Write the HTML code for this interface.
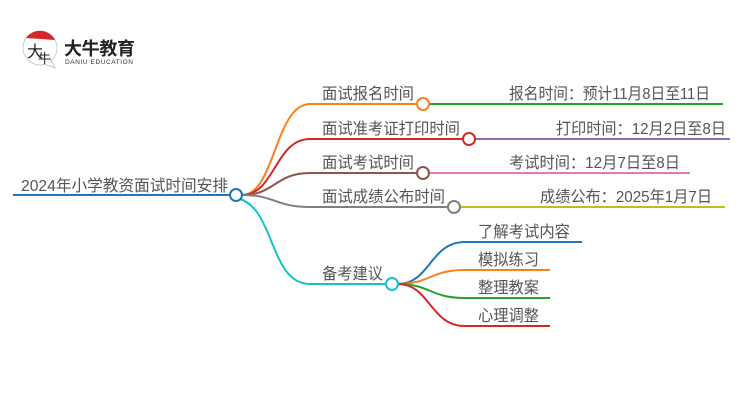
<!DOCTYPE html>
<html><head><meta charset="utf-8"><style>
body{margin:0;background:#fff;width:750px;height:410px;overflow:hidden;}
svg text{font-family:"Liberation Sans","Noto Sans CJK SC",sans-serif;}
</style></head><body>
<svg width="750" height="410" viewBox="0 0 750 410" xmlns="http://www.w3.org/2000/svg">
<circle cx="40" cy="48" r="17" fill="#fff" stroke="#ccc" stroke-width="1"/>
<path d="M26 38 A17 17 0 0 1 55 40 Z" fill="#d9262c"/>
<path d="M44 64 L55 68 L50 58" fill="#fff" stroke="#ccc" stroke-width="1"/>
<text x="27" y="57" font-size="16" fill="#222" font-family="Liberation Serif,'Noto Serif CJK SC',serif">大</text>
<text x="38" y="63" font-size="13" fill="#222" font-family="Liberation Serif,'Noto Serif CJK SC',serif">牛</text>
<text x="64" y="55" font-size="18" font-weight="bold" fill="#222" textLength="71">大牛教育</text>
<text x="65" y="64" font-size="6.5" fill="#333" textLength="68">DANIU EDUCATION</text>

<g fill="none" stroke-width="2">
<line x1="13" y1="195" x2="230" y2="195" stroke="#1f77b4"/>
<path d="M242 195 C275 195 275 104 310 104 L417 104" stroke="#f58220"/>
<path d="M242 195 C275 195 275 139 310 139 L463 139" stroke="#d62728"/>
<path d="M242 195 C275 195 275 173 310 173 L417 173" stroke="#8c564b"/>
<path d="M242 195 C275 195 275 207 310 207 L448 207" stroke="#7f7f7f"/>
<path d="M240 199 C275 210 270 284 310 284 L386 284" stroke="#17becf"/>
<line x1="429" y1="104" x2="723" y2="104" stroke="#2ca02c"/>
<line x1="475" y1="139" x2="730" y2="139" stroke="#9467bd"/>
<line x1="429" y1="173" x2="690" y2="173" stroke="#e377c2"/>
<line x1="460" y1="207" x2="725" y2="207" stroke="#bcbd22"/>
<path d="M398 284 C430 284 430 242 465 242 L582 242" stroke="#1f77b4"/>
<path d="M398 284 C430 284 430 270 465 270 L550 270" stroke="#f58220"/>
<path d="M398 284 C430 284 430 298 465 298 L550 298" stroke="#2ca02c"/>
<path d="M398 284 C430 284 430 326 465 326 L550 326" stroke="#d62728"/>
</g>
<g fill="#fff" stroke-width="2">
<circle cx="236" cy="195" r="6" stroke="#1f77b4"/>
<circle cx="423" cy="104" r="6" stroke="#f58220"/>
<circle cx="469" cy="139" r="6" stroke="#d62728"/>
<circle cx="423" cy="173" r="6" stroke="#8c564b"/>
<circle cx="454" cy="207" r="6" stroke="#7f7f7f"/>
<circle cx="392" cy="284" r="6" stroke="#17becf"/>
</g>
<g font-size="16" fill="#555">
<text x="21" y="191" textLength="207" lengthAdjust="spacingAndGlyphs">2024年小学教资面试时间安排</text>
<text x="322" y="99" textLength="92" lengthAdjust="spacingAndGlyphs">面试报名时间</text>
<text x="322" y="134" textLength="138" lengthAdjust="spacingAndGlyphs">面试准考证打印时间</text>
<text x="322" y="168" textLength="92" lengthAdjust="spacingAndGlyphs">面试考试时间</text>
<text x="322" y="202" textLength="123" lengthAdjust="spacingAndGlyphs">面试成绩公布时间</text>
<text x="509" y="99" textLength="201" lengthAdjust="spacingAndGlyphs">报名时间：预计11月8日至11日</text>
<text x="556" y="134" textLength="170" lengthAdjust="spacingAndGlyphs">打印时间：12月2日至8日</text>
<text x="509" y="168" textLength="171" lengthAdjust="spacingAndGlyphs">考试时间：12月7日至8日</text>
<text x="540" y="202" textLength="172" lengthAdjust="spacingAndGlyphs">成绩公布：2025年1月7日</text>
<text x="322" y="279" textLength="61" lengthAdjust="spacingAndGlyphs">备考建议</text>
<text x="478" y="237" textLength="92" lengthAdjust="spacingAndGlyphs">了解考试内容</text>
<text x="478" y="265" textLength="61" lengthAdjust="spacingAndGlyphs">模拟练习</text>
<text x="478" y="293" textLength="61" lengthAdjust="spacingAndGlyphs">整理教案</text>
<text x="478" y="321" textLength="61" lengthAdjust="spacingAndGlyphs">心理调整</text>
</g>
</svg>
</body></html>
